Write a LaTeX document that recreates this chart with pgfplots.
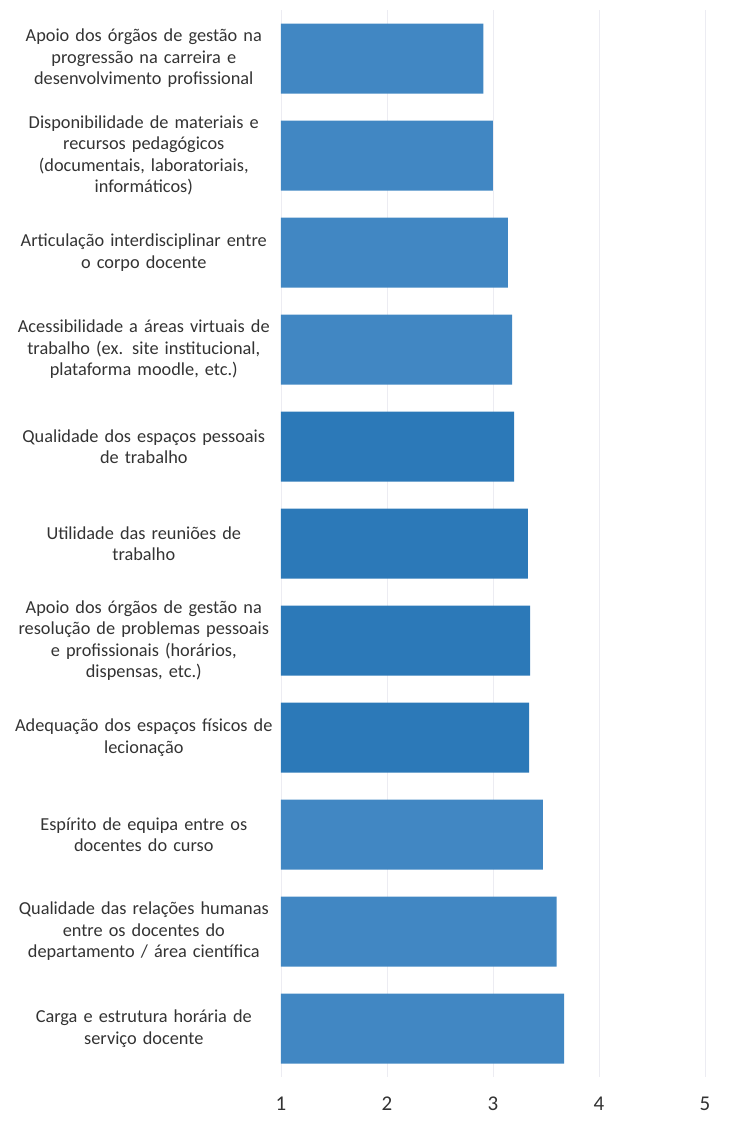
\documentclass[border=0pt]{standalone}
\usepackage{pgfplots}
\pgfplotsset{compat=1.18}
\usepackage{fontspec}
\setmainfont{Carlito}
\definecolor{barlight}{HTML}{4187C3}
\definecolor{bardark}{HTML}{2C79B8}
\definecolor{gridc}{HTML}{ECECF2}
\definecolor{txt}{HTML}{333333}
\begin{document}
\begin{tikzpicture}
\path[use as bounding box] (-281pt,-60pt) rectangle (467pt,1077pt);
\begin{axis}[
  at={(0pt,0pt)}, anchor=south west,
  scale only axis, width=424pt, height=1067pt,
  xmin=1, xmax=5, ymin=-0.5, ymax=10.5, y dir=reverse,
  xbar, bar width=70pt,
  axis line style={draw=none},
  xtick={1,2,3,4,5}, major tick length=0pt,
  xmajorgrids, grid style={gridc, line width=0.8pt},
  ytick={0,...,10},
  yticklabels={
    {Apoio dos órgãos de gestão na\\progressão na carreira e\\desenvolvimento profissional},
    {Disponibilidade de materiais e\\recursos pedagógicos\\(documentais, laboratoriais,\\informáticos)},
    {Articulação interdisciplinar entre\\o corpo docente},
    {Acessibilidade a áreas virtuais de\\trabalho (ex. site institucional,\\plataforma moodle, etc.)},
    {Qualidade dos espaços pessoais\\de trabalho},
    {Utilidade das reuniões de\\trabalho},
    {Apoio dos órgãos de gestão na\\resolução de problemas pessoais\\e profissionais (horários,\\dispensas, etc.)},
    {Adequação dos espaços físicos de\\lecionação},
    {Espírito de equipa entre os\\docentes do curso},
    {Qualidade das relações humanas\\entre os docentes do\\departamento / área científica},
    {Carga e estrutura horária de\\serviço docente}},
  yticklabel style={align=center, text width=264pt, inner sep=0pt, xshift=-5pt,
    font=\fontsize{18.3}{21.5}\selectfont, text=txt},
  xticklabel style={font=\fontsize{21}{24}\selectfont, text=txt, yshift=-16pt},
  /pgf/number format/assume math mode=true,
  clip=false,
]
\addplot[fill=barlight, draw=none, bar shift=0pt] coordinates {
  (2.91,0) (3.00,1) (3.14,2) (3.18,3) (3.47,8) (3.60,9) (3.67,10)};
\addplot[fill=bardark, draw=none, bar shift=0pt] coordinates {
  (3.20,4) (3.33,5) (3.35,6) (3.34,7)};
\end{axis}
\end{tikzpicture}
\end{document}
